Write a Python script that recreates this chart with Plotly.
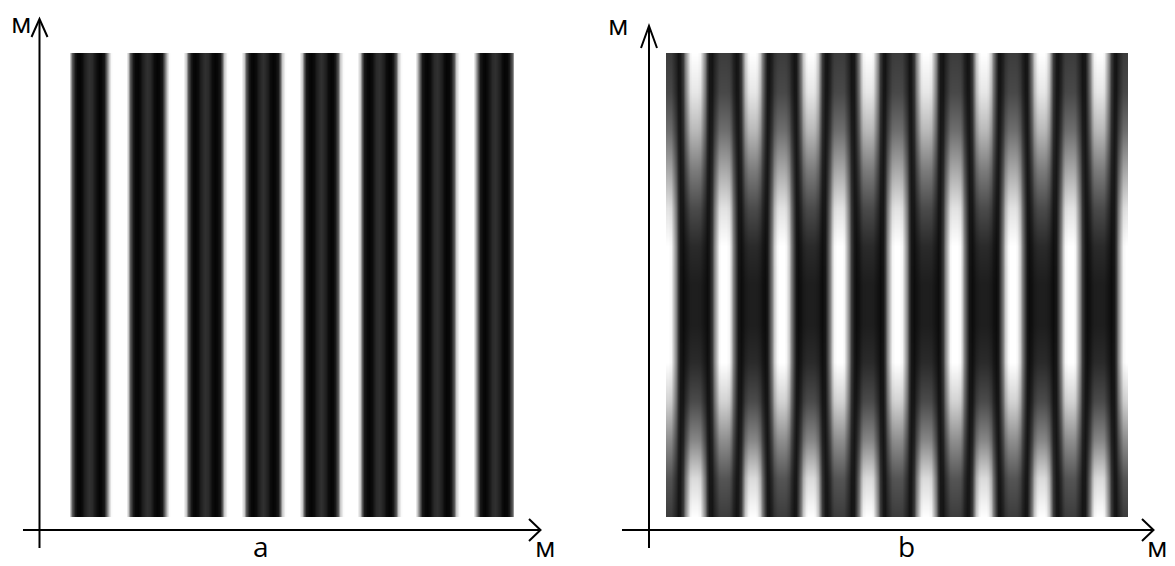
import numpy as np
import plotly.graph_objects as go

W, H = 1175, 566

# ---------------- data ----------------
# Panel a: grey level (0 black .. 255 white) across one fringe period (24 samples)
profile_a = [200, 90, 25, 8, 5, 12, 28, 42, 48, 42, 28, 12, 5, 8, 25, 90,
             200, 250, 255, 255, 255, 255, 255, 255]
periods_a = 8
# Panel b: fringe profile with its bright maximum at the start of the period
profile_b = [255, 255, 245, 200, 130, 60, 20, 6, 4, 4, 4, 4, 4, 4, 4, 4,
             4, 6, 20, 60, 130, 200, 245, 255]
periods_b = 8
# weights (top -> bottom) of the half-period-shifted fringes and of the central fringes
weight_edge = [1.0, 0.9, 0.72, 0.48, 0.28, 0.15, 0.1, 0.1, 0.15, 0.28, 0.52, 0.85, 1.0]
weight_mid = [0.22, 0.27, 0.42, 0.65, 0.88, 1.0, 1.0, 1.0, 1.0, 0.82, 0.55, 0.32, 0.22]

axis_unit = "м"
panel_labels = ["a", "b"]

# ---------------- build the matrices ----------------
n_a = periods_a * len(profile_a) - (len(profile_a) - 16) + 1  # image ends after last dark band
row_a = [profile_a[i % len(profile_a)] for i in range(n_a)]
z_a = [row_a, row_a]

P = len(profile_b)
n_b = periods_b * P + 1
f_mid = np.array([profile_b[i % P] for i in range(n_b)], dtype=float)
f_edge = np.array([profile_b[(i + P // 2) % P] for i in range(n_b)], dtype=float)
z_b = [np.clip(we * f_edge + wm * f_mid, 0, 255).tolist()
       for we, wm in zip(weight_edge, weight_mid)]

gray = [[0, "black"], [1, "white"]]

fig = go.Figure()
fig.add_trace(go.Heatmap(z=z_a, x=list(range(n_a)), y=[0, 1], colorscale=gray,
                         zmin=0, zmax=255, zsmooth="best", showscale=False,
                         hoverinfo="skip", xaxis="x", yaxis="y"))
fig.add_trace(go.Heatmap(z=z_b, x=list(range(n_b)), y=list(range(len(weight_edge))),
                         colorscale=gray, zmin=0, zmax=255, zsmooth="best",
                         showscale=False, hoverinfo="skip", xaxis="x2", yaxis="y2"))


def px(x):
    return x / W


def py(y):
    return 1 - y / H


hidden = dict(visible=False, showgrid=False, zeroline=False, fixedrange=True)
fig.update_layout(
    width=W, height=H,
    margin=dict(l=0, r=0, t=0, b=0),
    paper_bgcolor="white", plot_bgcolor="white",
    xaxis=dict(domain=[px(70), px(514)], range=[0, n_a - 1], **hidden),
    yaxis=dict(domain=[py(517), py(53)], range=[0, 1], **hidden),
    xaxis2=dict(domain=[px(666), px(1128)], range=[0, n_b - 1], anchor="y2", **hidden),
    yaxis2=dict(domain=[py(517), py(53)], range=[len(weight_edge) - 1, 0], anchor="x2", **hidden),
)

shapes = []


def seg(pts):
    path = "M " + " L ".join(f"{px(x):.5f},{py(y):.5f}" for x, y in pts)
    shapes.append(dict(type="path", xref="paper", yref="paper", path=path,
                       line=dict(color="black", width=2), fillcolor="rgba(0,0,0,0)"))


# panel a axes
seg([(39.5, 548), (39.5, 20)])
seg([(31.5, 37), (39.5, 19), (47.5, 37)])
seg([(23, 530), (540, 530)])
seg([(529, 519), (540.5, 530), (529, 541)])
# panel b axes
seg([(649, 548), (649, 27)])
seg([(641, 48), (649, 26), (657, 48)])
seg([(622, 530), (1153, 530)])
seg([(1142, 519), (1153.5, 530), (1142, 541)])
fig.update_layout(shapes=shapes)

font = dict(family="Open Sans", size=28, color="black")
# (text, x, y, vertical anchor)
annots = [
    (axis_unit, 21, 22, "middle"), (axis_unit, 618, 24, "middle"),
    (panel_labels[0], 261, 566, "bottom"), (axis_unit, 545, 566, "bottom"),
    (panel_labels[1], 906, 566, "bottom"), (axis_unit, 1157, 566, "bottom"),
]
fig.update_layout(annotations=[
    dict(text=t, x=px(x), y=py(y), xref="paper", yref="paper", showarrow=False,
         xanchor="center", yanchor=ya, font=font, borderpad=0)
    for t, x, y, ya in annots
])

fig.write_html("out.html", config={"displayModeBar": False},
               post_script="document.body.style.margin='0';")
